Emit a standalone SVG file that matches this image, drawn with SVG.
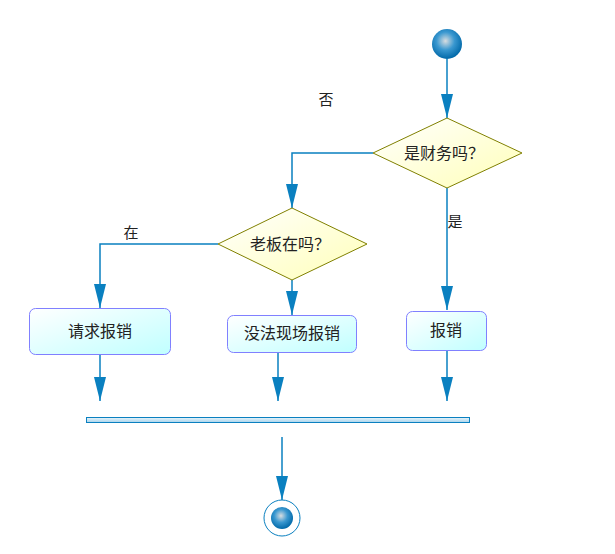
<svg xmlns="http://www.w3.org/2000/svg" width="615" height="554" viewBox="0 0 615 554">
<defs>
<radialGradient id="ball" cx="0.45" cy="0.4" r="0.6">
<stop offset="0" stop-color="#d8dde0"/>
<stop offset="0.5" stop-color="#3a98d0"/>
<stop offset="1" stop-color="#0068a8"/>
</radialGradient>
<linearGradient id="dia" x1="0" y1="0" x2="1" y2="1">
<stop offset="0" stop-color="#ffffff"/>
<stop offset="1" stop-color="#ffffb8"/>
</linearGradient>
<linearGradient id="box" x1="0" y1="0" x2="1" y2="1">
<stop offset="0" stop-color="#ffffff"/>
<stop offset="1" stop-color="#c0ffff"/>
</linearGradient>
<linearGradient id="bar" x1="0" y1="0" x2="0" y2="1">
<stop offset="0" stop-color="#e8f4fa"/>
<stop offset="1" stop-color="#a8d4ec"/>
</linearGradient>
<marker id="arr" viewBox="0 0 24 12" refX="24" refY="6" markerWidth="24" markerHeight="12" markerUnits="userSpaceOnUse" orient="auto">
<path d="M0 0 L24 6 L0 12 Z" fill="#0a80c0"/>
</marker>
</defs>
<style>
.ln{fill:none;stroke:#0a80c0;stroke-width:1.5}
.dia{fill:url(#dia);stroke:#808000;stroke-width:1}
.box{fill:url(#box);stroke:#8080ff;stroke-width:1}
.t{font-family:"Noto Sans CJK SC","Noto Sans",sans-serif;font-size:16px;fill:#222;text-anchor:middle}
.lb{font-family:"Noto Sans CJK SC","Noto Sans",sans-serif;font-size:15px;fill:#222;text-anchor:middle}
</style>
<g id="connectors">
<path class="ln" d="M447 59 L447 118" marker-end="url(#arr)"/>
<path class="ln" d="M373 153 L292 153 L292 208" marker-end="url(#arr)"/>
<path class="ln" d="M447 188 L447 310" marker-end="url(#arr)"/>
<path class="ln" d="M218 244 L100 244 L100 308" marker-end="url(#arr)"/>
<path class="ln" d="M292 280 L292 315" marker-end="url(#arr)"/>
<path class="ln" d="M100 355 L100 401" marker-end="url(#arr)"/>
<path class="ln" d="M278 353 L278 401" marker-end="url(#arr)"/>
<path class="ln" d="M447 351 L447 401" marker-end="url(#arr)"/>
<path class="ln" d="M282 437 L282 500" marker-end="url(#arr)"/>
<text class="lb" x="326" y="105">否</text>
<text class="lb" x="455" y="227">是</text>
<text class="lb" x="131" y="238">在</text>
</g>
<g id="start">
<circle cx="447" cy="44" r="15" fill="url(#ball)"/>
</g>
<g id="d1">
<polygon class="dia" points="447,118 522,153 447,188 373,153"/>
<text class="t" x="444" y="159">是财务吗？</text>
</g>
<g id="d2">
<polygon class="dia" points="292,208 367,244 292,280 218,244"/>
<text class="t" x="290" y="250">老板在吗？</text>
</g>
<g id="a1">
<rect class="box" x="29.5" y="308.5" width="141" height="46" rx="6"/>
<text class="t" x="100" y="337">请求报销</text>
</g>
<g id="a2">
<rect class="box" x="227.5" y="315.5" width="129" height="37" rx="6"/>
<text class="t" x="292" y="339">没法现场报销</text>
</g>
<g id="a3">
<rect class="box" x="406.5" y="311.5" width="80" height="39" rx="6"/>
<text class="t" x="446" y="336">报销</text>
</g>
<g id="join">
<rect x="86.5" y="417.5" width="383" height="5" fill="url(#bar)" stroke="#0a80c0" stroke-width="1"/>
</g>
<g id="end">
<circle cx="282" cy="518" r="18" fill="none" stroke="#0a80c0" stroke-width="1"/>
<circle cx="282" cy="518" r="11" fill="url(#ball)"/>
</g>
</svg>
